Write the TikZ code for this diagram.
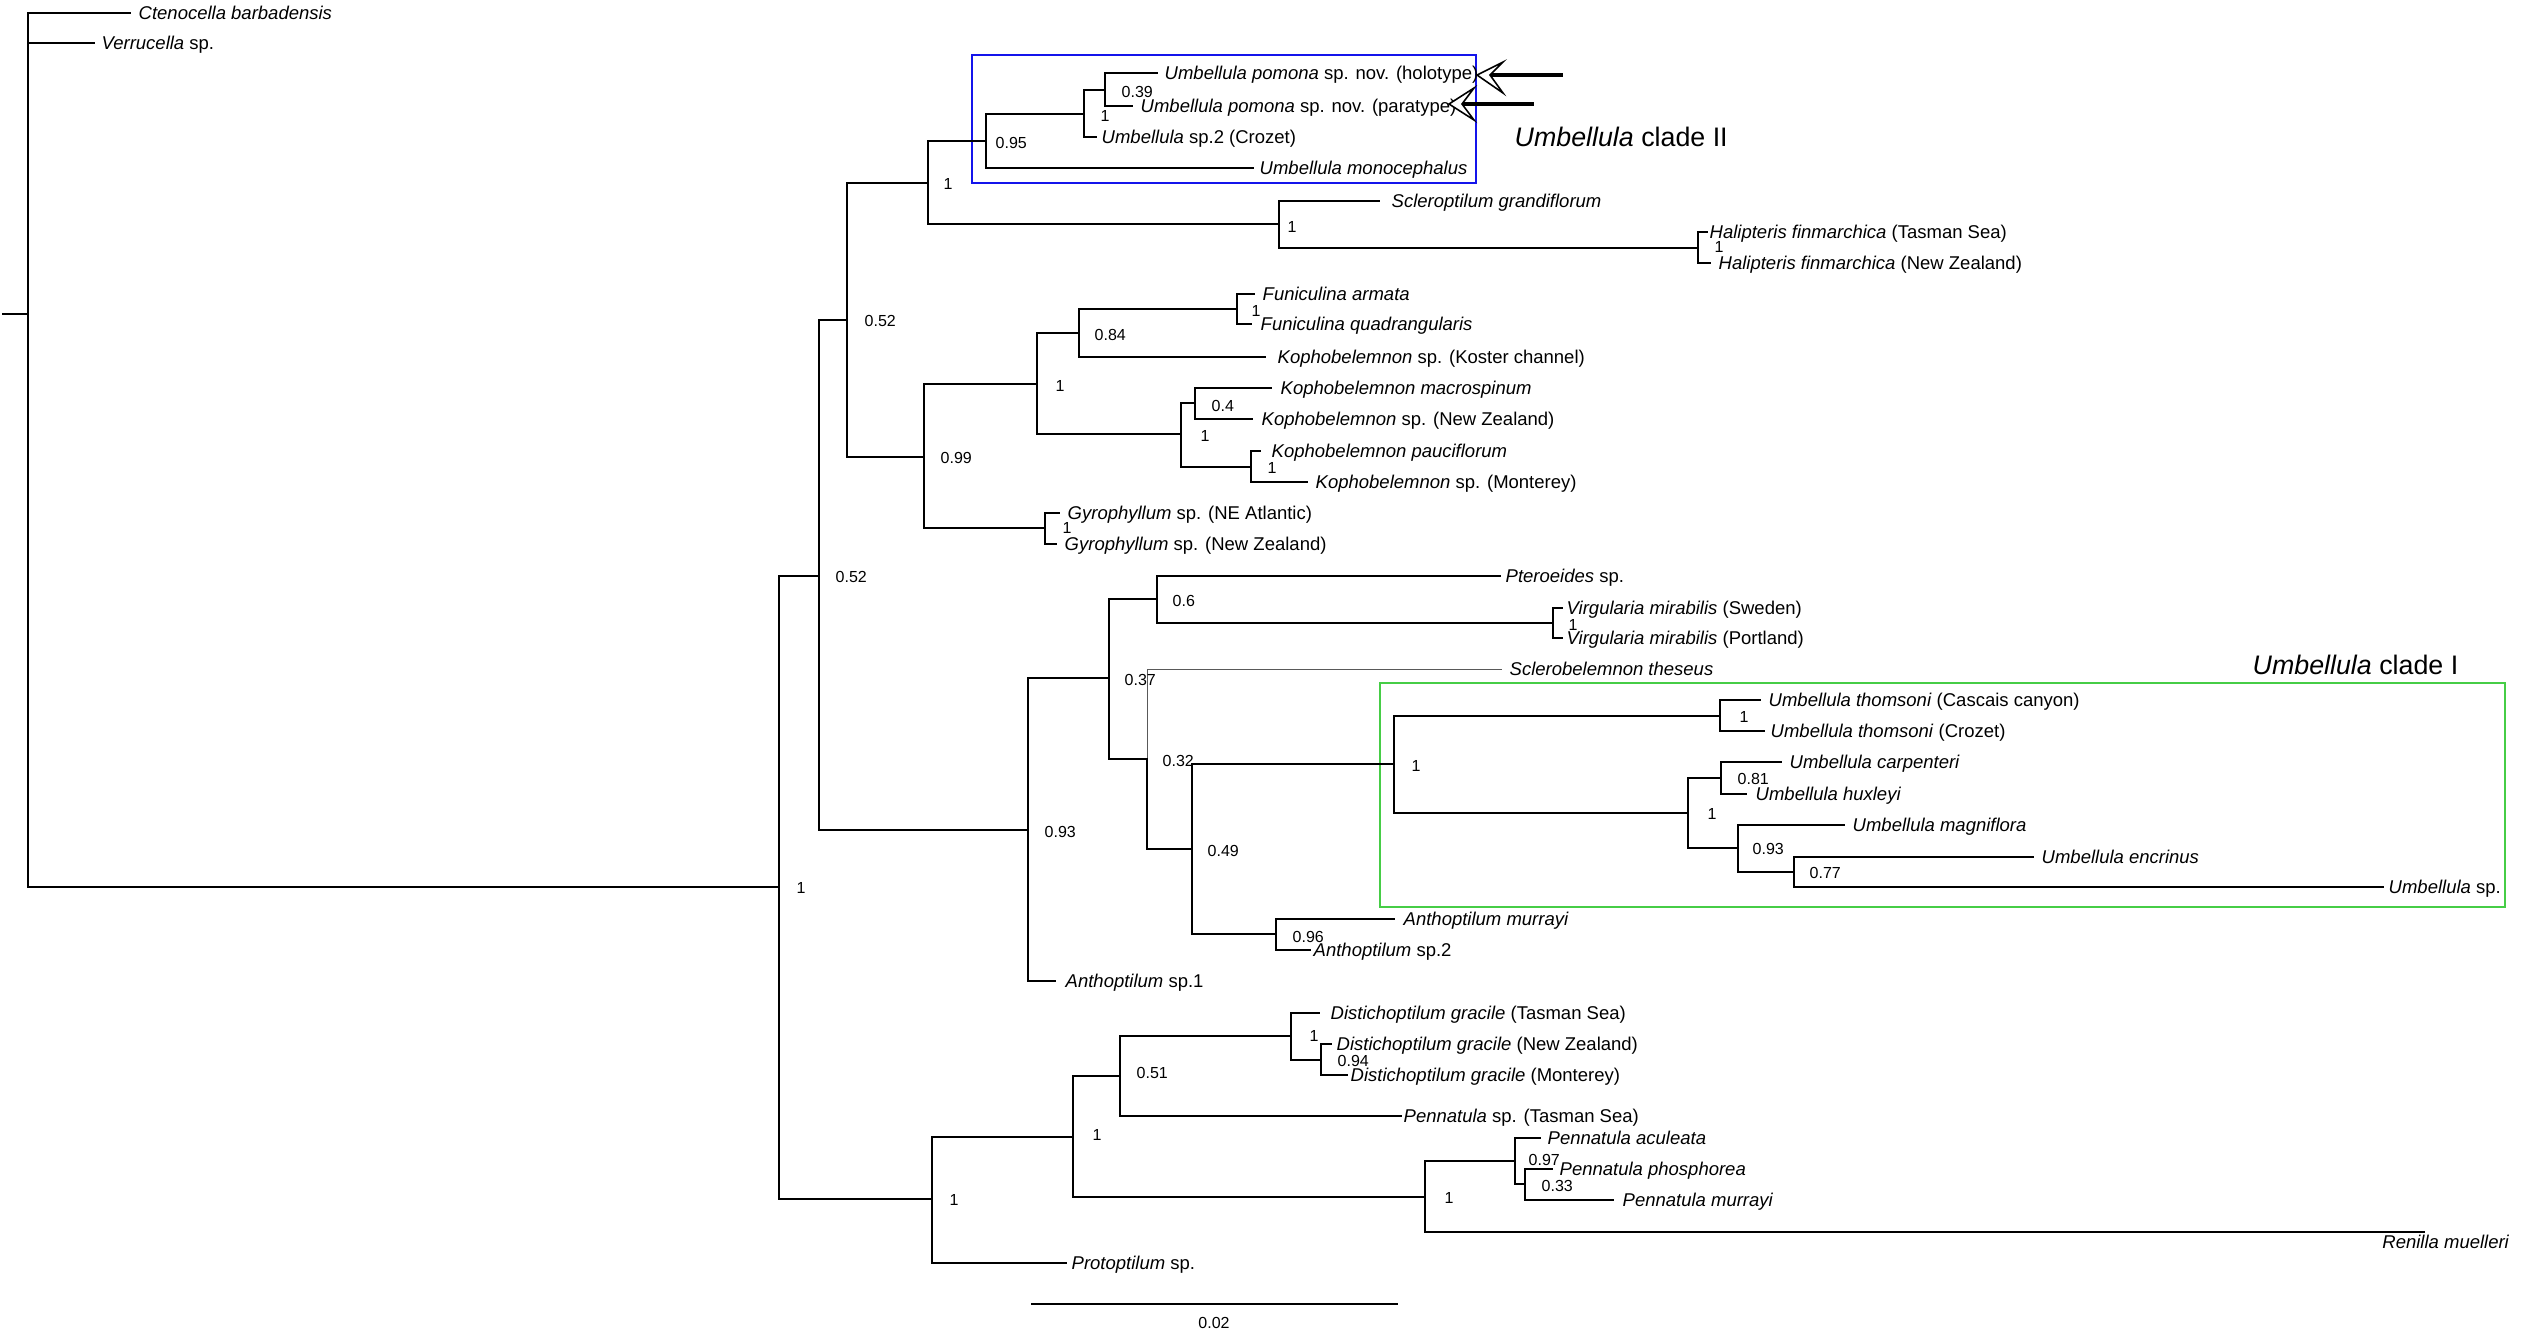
\documentclass[tikz,border=0pt]{standalone}
\usepackage{fontspec}
\setmainfont{Liberation Sans}
\begin{document}
\begin{tikzpicture}[x=0.01cm,y=-0.01cm,
  br/.style={line width=0.44pt,line cap=rect},
  thinbr/.style={line width=0.25pt,black!65},
  taxon/.style={anchor=base west,inner sep=0pt,font=\fontsize{5.26}{6}\selectfont,yshift=-0.066cm},
  taxonr/.style={anchor=base east,inner sep=0pt,font=\fontsize{5.26}{6}\selectfont,yshift=-0.066cm},
  supp/.style={anchor=base west,inner sep=0pt,font=\fontsize{4.55}{5}\selectfont,yshift=-0.057cm},
  scalelab/.style={anchor=base,inner sep=0pt,font=\fontsize{4.55}{5}\selectfont,yshift=-0.057cm},
  cladelab/.style={anchor=base west,inner sep=0pt,font=\fontsize{7.62}{9}\selectfont,yshift=-0.096cm},
  cladebox/.style={line width=0.7pt},
  arrowshaft/.style={line width=1.15pt},
  arrowhead/.style={line width=0.45pt,fill=white,line join=miter}]
\useasboundingbox (0,0) rectangle (2523,1338);
\definecolor{boxblue}{RGB}{20,20,235}
\definecolor{boxgreen}{RGB}{70,205,70}

% ---------- clade boxes ----------
\draw[boxblue,cladebox] (972,55) rectangle (1476,183);
\draw[boxgreen,cladebox] (1380,683) rectangle (2505,907);

% ---------- internal nodes ----------
\coordinate (Rs) at (3,314);
\coordinate (R) at (28,314);
\coordinate (nroot) at (779,887);
\coordinate (n052b) at (819,576);
\coordinate (n052a) at (847,320);
\coordinate (n1a) at (928,183);
\coordinate (n095) at (986,141);
\coordinate (n1b) at (1084,114);
\coordinate (n039) at (1105,90);
\coordinate (nSH) at (1279,224);
\coordinate (nHal) at (1698,248);
\coordinate (n099) at (924,457);
\coordinate (n1c) at (1037,384);
\coordinate (n084) at (1079,333);
\coordinate (nFun) at (1237,309);
\coordinate (n1k) at (1181,434);
\coordinate (n04) at (1195,403);
\coordinate (nPau) at (1251,467);
\coordinate (nGyr) at (1045,528);
\coordinate (n093) at (1028,830);
\coordinate (n037) at (1109,678);
\coordinate (n06) at (1157,599);
\coordinate (nVir) at (1553,623);
\coordinate (n032) at (1147,759);
\coordinate (n049) at (1192,849);
\coordinate (nC1) at (1394,764);
\coordinate (nThom) at (1720,716);
\coordinate (n1u) at (1688,813);
\coordinate (n081) at (1721,778);
\coordinate (n093u) at (1738,848);
\coordinate (n077) at (1794,872);
\coordinate (nAnth) at (1276,934);
\coordinate (n931) at (932,1199);
\coordinate (n1p) at (1073,1137);
\coordinate (n051) at (1120,1076);
\coordinate (nDis) at (1291,1036);
\coordinate (n094) at (1321,1060);
\coordinate (nPen) at (1425,1197);
\coordinate (n097) at (1515,1161);
\coordinate (n033) at (1525,1184);

% ---------- tips ----------
\coordinate (ctn) at (130,13);
\coordinate (ver) at (94,43);
\coordinate (holo) at (1157,73);
\coordinate (para) at (1132,106);
\coordinate (ucroz) at (1096,137);
\coordinate (mono) at (1253,168);
\coordinate (scler) at (1379,201);
\coordinate (halT) at (1707,232);
\coordinate (halNZ) at (1710,263);
\coordinate (armata) at (1254,294);
\coordinate (quad) at (1251,324);
\coordinate (koster) at (1265,357);
\coordinate (macro) at (1271,388);
\coordinate (kNZ) at (1252,419);
\coordinate (pauci) at (1260,451);
\coordinate (kMont) at (1307,482);
\coordinate (gNE) at (1059,513);
\coordinate (gNZ) at (1056,544);
\coordinate (ptero) at (1500,576);
\coordinate (vSwe) at (1562,608);
\coordinate (vPort) at (1562,638);
\coordinate (sclero) at (1502,669);
\coordinate (casc) at (1760,700);
\coordinate (tcroz) at (1764,731);
\coordinate (carp) at (1781,762);
\coordinate (hux) at (1746,794);
\coordinate (magn) at (1844,825);
\coordinate (encr) at (2033,857);
\coordinate (usp) at (2383,887);
\coordinate (amur) at (1394,919);
\coordinate (asp2) at (1310,950);
\coordinate (anth1) at (1055,981);
\coordinate (dTas) at (1319,1013);
\coordinate (dNZ) at (1331,1044);
\coordinate (dMont) at (1347,1075);
\coordinate (pTas) at (1401,1116);
\coordinate (acul) at (1540,1138);
\coordinate (phos) at (1552,1169);
\coordinate (pmur) at (1613,1200);
\coordinate (ren) at (2424,1232);
\coordinate (proto) at (1066,1263);

% ---------- branches ----------
\draw[br] (Rs) -- (R);
\draw[br] (R) |- (ctn);
\draw[br] (R) |- (ver);
\draw[br] (R) |- (nroot);
\draw[br] (nroot) |- (n052b);
\draw[br] (nroot) |- (n931);
\draw[br] (n052b) |- (n052a);
\draw[br] (n052b) |- (n093);
\draw[br] (n052a) |- (n1a);
\draw[br] (n052a) |- (n099);
\draw[br] (n1a) |- (n095);
\draw[br] (n1a) |- (nSH);
\draw[br] (n095) |- (n1b);
\draw[br] (n095) |- (mono);
\draw[br] (n1b) |- (n039);
\draw[br] (n1b) |- (ucroz);
\draw[br] (n039) |- (holo);
\draw[br] (n039) |- (para);
\draw[br] (nSH) |- (scler);
\draw[br] (nSH) |- (nHal);
\draw[br] (nHal) |- (halT);
\draw[br] (nHal) |- (halNZ);
\draw[br] (n099) |- (n1c);
\draw[br] (n099) |- (nGyr);
\draw[br] (n1c) |- (n084);
\draw[br] (n1c) |- (n1k);
\draw[br] (n084) |- (nFun);
\draw[br] (n084) |- (koster);
\draw[br] (nFun) |- (armata);
\draw[br] (nFun) |- (quad);
\draw[br] (n1k) |- (n04);
\draw[br] (n1k) |- (nPau);
\draw[br] (n04) |- (macro);
\draw[br] (n04) |- (kNZ);
\draw[br] (nPau) |- (pauci);
\draw[br] (nPau) |- (kMont);
\draw[br] (nGyr) |- (gNE);
\draw[br] (nGyr) |- (gNZ);
\draw[br] (n093) |- (n037);
\draw[br] (n093) |- (anth1);
\draw[br] (n037) |- (n06);
\draw[br] (n037) |- (n032);
\draw[br] (n06) |- (ptero);
\draw[br] (n06) |- (nVir);
\draw[br] (nVir) |- (vSwe);
\draw[br] (nVir) |- (vPort);
\draw[thinbr] (n032) |- (sclero);
\draw[br] (n032) |- (n049);
\draw[br] (n049) |- (nC1);
\draw[br] (n049) |- (nAnth);
\draw[br] (nC1) |- (nThom);
\draw[br] (nC1) |- (n1u);
\draw[br] (nThom) |- (casc);
\draw[br] (nThom) |- (tcroz);
\draw[br] (n1u) |- (n081);
\draw[br] (n1u) |- (n093u);
\draw[br] (n081) |- (carp);
\draw[br] (n081) |- (hux);
\draw[br] (n093u) |- (magn);
\draw[br] (n093u) |- (n077);
\draw[br] (n077) |- (encr);
\draw[br] (n077) |- (usp);
\draw[br] (nAnth) |- (amur);
\draw[br] (nAnth) |- (asp2);
\draw[br] (n931) |- (n1p);
\draw[br] (n931) |- (proto);
\draw[br] (n1p) |- (n051);
\draw[br] (n1p) |- (nPen);
\draw[br] (n051) |- (nDis);
\draw[br] (n051) |- (pTas);
\draw[br] (nDis) |- (dTas);
\draw[br] (nDis) |- (n094);
\draw[br] (n094) |- (dNZ);
\draw[br] (n094) |- (dMont);
\draw[br] (nPen) |- (n097);
\draw[br] (nPen) |- (ren);
\draw[br] (n097) |- (acul);
\draw[br] (n097) |- (n033);
\draw[br] (n033) |- (phos);
\draw[br] (n033) |- (pmur);

% ---------- taxon labels ----------
\node[taxon] (Lctn) at (138,13) {\textit{Ctenocella barbadensis}};
\node[taxon] (Lver) at (101,43) {\textit{Verrucella} sp.};
\node[taxon] (Lholo) at (1164,73) {\textit{Umbellula pomona} sp. nov. (holotype)};
\node[taxon] (Lpara) at (1140,106) {\textit{Umbellula pomona} sp. nov. (paratype)};
\node[taxon] (Lucroz) at (1101,137) {\textit{Umbellula} sp.2 (Crozet)};
\node[taxon] (Lmono) at (1259,168) {\textit{Umbellula monocephalus}};
\node[taxon] (Lscler) at (1391,201) {\textit{Scleroptilum grandiflorum}};
\node[taxon] (LhalT) at (1709,232) {\textit{Halipteris finmarchica} (Tasman Sea)};
\node[taxon] (LhalNZ) at (1718,263) {\textit{Halipteris finmarchica} (New Zealand)};
\node[taxon] (Larmata) at (1262,294) {\textit{Funiculina armata}};
\node[taxon] (Lquad) at (1260,324) {\textit{Funiculina quadrangularis}};
\node[taxon] (Lkoster) at (1277,357) {\textit{Kophobelemnon} sp. (Koster channel)};
\node[taxon] (Lmacro) at (1280,388) {\textit{Kophobelemnon macrospinum}};
\node[taxon] (LkNZ) at (1261,419) {\textit{Kophobelemnon} sp. (New Zealand)};
\node[taxon] (Lpauci) at (1271,451) {\textit{Kophobelemnon pauciflorum}};
\node[taxon] (LkMont) at (1315,482) {\textit{Kophobelemnon} sp. (Monterey)};
\node[taxon] (LgNE) at (1067,513) {\textit{Gyrophyllum} sp. (NE Atlantic)};
\node[taxon] (LgNZ) at (1064,544) {\textit{Gyrophyllum} sp. (New Zealand)};
\node[taxon] (Lptero) at (1505,576) {\textit{Pteroeides} sp.};
\node[taxon] (LvSwe) at (1566,608) {\textit{Virgularia mirabilis} (Sweden)};
\node[taxon] (LvPort) at (1566,638) {\textit{Virgularia mirabilis} (Portland)};
\node[taxon] (Lsclero) at (1509,669) {\textit{Sclerobelemnon theseus}};
\node[taxon] (Lcasc) at (1768,700) {\textit{Umbellula thomsoni} (Cascais canyon)};
\node[taxon] (Ltcroz) at (1770,731) {\textit{Umbellula thomsoni} (Crozet)};
\node[taxon] (Lcarp) at (1789,762) {\textit{Umbellula carpenteri}};
\node[taxon] (Lhux) at (1755,794) {\textit{Umbellula huxleyi}};
\node[taxon] (Lmagn) at (1852,825) {\textit{Umbellula magniflora}};
\node[taxon] (Lencr) at (2041,857) {\textit{Umbellula encrinus}};
\node[taxon] (Lusp) at (2388,887) {\textit{Umbellula} sp.};
\node[taxon] (Lamur) at (1403,919) {\textit{Anthoptilum murrayi}};
\node[taxon] (Lasp2) at (1313,950) {\textit{Anthoptilum} sp.2};
\node[taxon] (Lanth1) at (1065,981) {\textit{Anthoptilum} sp.1};
\node[taxon] (LdTas) at (1330,1013) {\textit{Distichoptilum gracile} (Tasman Sea)};
\node[taxon] (LdNZ) at (1336,1044) {\textit{Distichoptilum gracile} (New Zealand)};
\node[taxon] (LdMont) at (1350,1075) {\textit{Distichoptilum gracile} (Monterey)};
\node[taxon] (LpTas) at (1403,1116) {\textit{Pennatula} sp. (Tasman Sea)};
\node[taxon] (Lacul) at (1547,1138) {\textit{Pennatula aculeata}};
\node[taxon] (Lphos) at (1559,1169) {\textit{Pennatula phosphorea}};
\node[taxon] (Lpmur) at (1622,1200) {\textit{Pennatula murrayi}};
\node[taxonr] (Lren) at (2510,1242) {\textit{Renilla muelleri}};
\node[taxon] (Lproto) at (1071,1263) {\textit{Protoptilum} sp.};

% ---------- support values ----------
\node[supp] at (1121,92) {0.39};
\node[supp] at (1100,116) {1};
\node[supp] at (995,143) {0.95};
\node[supp] at (943,184) {1};
\node[supp] at (1287,227) {1};
\node[supp] at (1714,247) {1};
\node[supp] at (864,321) {0.52};
\node[supp] at (1094,335) {0.84};
\node[supp] at (1251,311) {1};
\node[supp] at (1055,386) {1};
\node[supp] at (1211,406) {0.4};
\node[supp] at (1200,436) {1};
\node[supp] at (1267,468) {1};
\node[supp] at (940,458) {0.99};
\node[supp] at (1062,528) {1};
\node[supp] at (835,577) {0.52};
\node[supp] at (1172,601) {0.6};
\node[supp] at (1568,625) {1};
\node[supp] at (1124,680) {0.37};
\node[supp] at (1162,761) {0.32};
\node[supp] at (1411,766) {1};
\node[supp] at (1739,717) {1};
\node[supp] at (1737,779) {0.81};
\node[supp] at (1707,814) {1};
\node[supp] at (1752,849) {0.93};
\node[supp] at (1809,873) {0.77};
\node[supp] at (1207,851) {0.49};
\node[supp] at (1292,937) {0.96};
\node[supp] at (1044,832) {0.93};
\node[supp] at (796,888) {1};
\node[supp] at (1309,1036) {1};
\node[supp] at (1337,1061) {0.94};
\node[supp] at (1136,1073) {0.51};
\node[supp] at (1092,1135) {1};
\node[supp] at (1444,1198) {1};
\node[supp] at (1528,1160) {0.97};
\node[supp] at (1541,1186) {0.33};
\node[supp] at (949,1200) {1};

% ---------- clade labels ----------
\node[cladelab] (cII) at (1514,137) {\textit{Umbellula} clade II};
\node[cladelab] (cI) at (2252,665) {\textit{Umbellula} clade I};

% ---------- arrows ----------
\coordinate (a1tip) at (1477,75);
\coordinate (a1top) at (1503,62);
\coordinate (a1notch) at (1490,75);
\coordinate (a1bot) at (1503,93);
\coordinate (a1end) at (1563,75);
\draw[arrowshaft] (a1notch) -- (a1end);
\draw[arrowhead] (a1tip) -- (a1top) -- (a1notch) -- (a1bot) -- cycle;
\coordinate (a2tip) at (1449,104);
\coordinate (a2top) at (1474,88);
\coordinate (a2notch) at (1462,104);
\coordinate (a2bot) at (1474,120);
\coordinate (a2end) at (1534,104);
\draw[arrowshaft] (a2notch) -- (a2end);
\draw[arrowhead] (a2tip) -- (a2top) -- (a2notch) -- (a2bot) -- cycle;

% ---------- scale bar ----------
\coordinate (sbl) at (1032,1304);
\coordinate (sbr) at (1397,1304);
\draw[br] (sbl) -- (sbr);
\node[scalelab] (sblab) at (1214,1323) {0.02};
\end{tikzpicture}
\end{document}
